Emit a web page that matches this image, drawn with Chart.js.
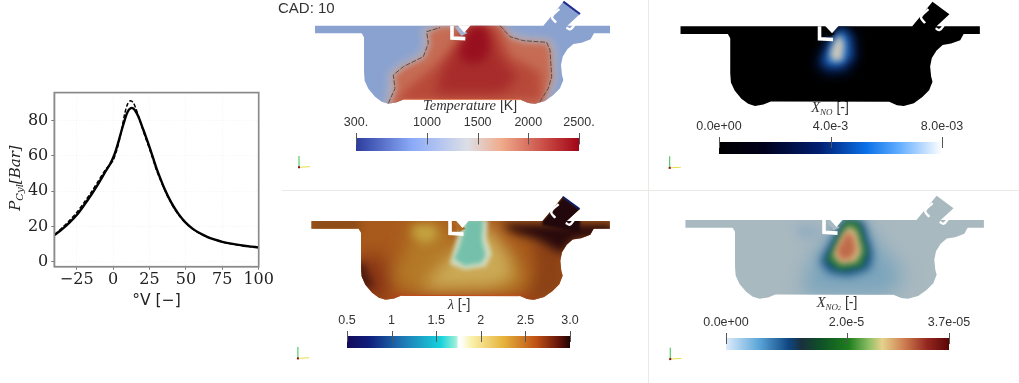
<!DOCTYPE html>
<html>
<head>
<meta charset="utf-8">
<title>CAD 10</title>
<script src="https://cdn.jsdelivr.net/npm/chart.js@4"></script>
<style>
  html, body { margin: 0; padding: 0; background: #fff; overflow: hidden; }
  #page { position: absolute; left: 0; top: 0; width: 1019px; height: 383px; filter: blur(0.4px); }
  #page canvas { position: absolute; }
  .txt { position: absolute; white-space: nowrap; color: #333; transform: translateX(-50%); font: 14px "Liberation Sans", sans-serif; }
  .txt i { font: italic 14.5px "Liberation Serif", serif; }
  .txt sub { font: italic 9px "Liberation Serif", serif; vertical-align: -3px; }
  .rule { position: absolute; background: #e9e9e6; }
</style>
</head>
<body>
<div id="page">
  <div class="rule" style="left:282px;top:190px;width:737px;height:1px"></div>
  <div class="rule" style="left:648px;top:0;width:1px;height:383px"></div>
  <div class="txt" style="left:278px;top:-1px;transform:none;font-size:15px">CAD: 10</div>
  <div class="txt" style="left:470px;top:97px"><i>Temperature</i> [K]</div>
  <div class="txt" style="left:830px;top:99px"><i>X</i><sub>NO</sub> [-]</div>
  <div class="txt" style="left:459px;top:296px"><i>λ</i> [-]</div>
  <div class="txt" style="left:837px;top:294px"><i>X</i><sub>NO<span style="font-size:6px">2</span></sub> [-]</div>
  <div class="txt" style="left:15px;top:178px;transform:translate(-50%,-50%) rotate(-90deg);color:#222;font:italic 15px 'DejaVu Serif',serif">P<sub style="font:italic 10px 'DejaVu Serif',serif">Cyl</sub>[Bar]</div>
</div>
<script>
// cylinder pressure trace
var crankAngle = [-40,-35,-30,-25,-20,-15,-10,-5,-2,0,2,4,6,8,10,12,14,16,18,20,22,25,28,30,35,40,45,50,55,60,65,70,75,80,85,90,95,100];
var pressureSim = [15.2,18.5,22.2,26.5,32,38,44.5,51.5,55.5,59,63.5,69,75,80.5,85,87,86.8,84.5,81,76.5,72,65,57.5,52.5,42,33.5,27,22,18.5,16,14,12.5,11.3,10.4,9.7,9.1,8.6,8.1];
var pressureExp = [15.5,19.3,23.4,28,33.5,39.5,46,52.5,55.3,57.5,62,68,75.5,84,89.5,91.3,90,86,81,76,71,64,56.5,51.5,41.5,33,26.5,21.8,18.3,15.8,13.9,12.4,11.2,10.3,9.6,9,8.5,8.1];
var angleTicks = [-25,0,25,50,75,100];
var pressureTicks = [0,20,40,60,80];

// engine section outline, shared by all four fields
var outline = [[105,77],[790,77],[850,5],[900,42],[862,77],[990,77],[990,100],[942,100],[932,118],[905,128],[880,132],[862,148],[848,170],[843,195],[846,225],[850,240],[840,265],[820,285],[795,303],[765,311],[745,309],[722,299],[372,298],[350,307],[325,311],[305,305],[285,290],[265,266],[254,242],[252,215],[252,112],[245,100],[105,100]];
var injector = [[516,77],[516,114],[556,116]];
var injectorGap = [[533,76],[553,98],[572,76],[533,76]];
var injectorWedge = [[524,80],[544,108],[562,100],[540,80],[524,80]];
var valveMarkA = [[838,27],[816,50],[828,68]];
var valveMarkB = [[885,72],[871,88],[859,83]];
var valveEdge = [[850,5],[900,42]];
var floorEdge = [[372,298],[722,299]];

// temperature field
var tempBase = [[0,0],[1020,0],[1020,555],[0,555],[0,0]];
var tempPale = [[312,330],[330,262],[328,220],[366,192],[424,164],[436,130],[428,88],[472,72],[664,70],[696,104],[738,114],[812,120],[824,150],[826,240],[814,270],[788,330],[312,330]];
var tempWarm = [[326,330],[348,268],[342,228],[372,203],[433,173],[450,130],[443,98],[480,80],[660,75],[690,113],[730,126],[802,130],[812,155],[816,235],[806,265],[778,330],[326,330]];
var tempHot = [[570,75],[650,75],[690,170],[780,215],[785,300],[345,305],[400,250],[470,195],[530,130],[570,75]];
var tempRed = [[570,85],[625,85],[660,170],[715,235],[660,280],[465,280],[490,205],[540,130],[570,85]];
var tempCore = [[572,78],[618,80],[630,140],[610,184],[565,190],[536,165],[553,120],[572,78]];
var tempIso = [[325,310],[345,265],[340,225],[370,200],[430,170],[445,130],[440,95],[480,83]];
var tempIso2 = [[660,77],[690,110],[730,122],[800,127],[810,150],[815,230],[805,265],[780,305]];

// NO field
var noHalo = [[590,72],[628,105],[632,172],[600,218],[535,224],[500,192],[525,130],[556,78],[590,72]];
var noBlue = [[582,82],[606,108],[612,165],[582,197],[540,197],[524,180],[548,122],[582,82]];
var noCore = [[578,102],[590,130],[584,178],[552,180],[546,155],[562,116],[578,102]];

// lambda field
var lamDarkLow = [[245,190],[290,170],[345,220],[340,290],[330,330],[240,300],[245,190]];
var lamWall = [[230,205],[262,200],[272,240],[290,275],[255,280],[230,205]];
var lamDarkRight = [[665,85],[1000,85],[1000,125],[880,135],[850,175],[780,135],[700,110],[665,85]];
var lamRightSide = [[760,130],[860,130],[860,300],[770,320],[735,300],[770,230],[760,130]];
var lamRect = [[790,77],[850,5],[905,42],[900,110],[790,90],[790,77]];
var lamLeftFlange = [[100,70],[250,70],[250,108],[100,108],[100,70]];
var lamFloor = [[340,292],[780,292],[780,330],[340,330],[340,292]];
var lamMid = [[390,90],[500,80],[540,170],[700,160],[745,250],[715,285],[385,285],[340,240],[390,160],[390,90]];
var lamYellow = [[535,165],[630,85],[685,170],[705,245],[640,272],[430,278],[475,225],[535,165]];
var lamSpot = [[405,90],[470,88],[480,125],[440,145],[405,120],[405,90]];
var lamPale = [[553,72],[628,72],[625,130],[640,175],[622,212],[560,222],[515,205],[530,150],[553,72]];
var lamTeal = [[565,72],[615,72],[610,130],[622,180],[608,202],[560,210],[528,190],[545,150],[565,72]];

// NO2 field
var no2Halo = [[445,300],[710,300],[755,240],[700,175],[630,85],[560,85],[480,190],[445,300]];
var no2Spot = [[430,95],[490,92],[500,120],[460,135],[430,115],[430,95]];
var no2Dark = [[575,76],[632,80],[660,180],[650,222],[590,242],[530,232],[505,200],[545,130],[575,76]];
var no2Green = [[580,76],[620,84],[645,170],[630,216],[560,226],[522,195],[555,130],[580,76]];
var no2Tan = [[588,95],[612,108],[628,170],[612,202],[565,208],[542,182],[568,125],[588,95]];
var no2Red = [[585,112],[602,125],[612,165],[596,192],[565,196],[553,168],[574,130],[585,112]];

// colour bar ranges, ticks, labels
var tempTicks = [300,1000,1500,2000,2500];
var tempLabels = ['300.','1000','1500','2000','2500.'];
var noTicks = [0,0.004,0.008];
var noLabels = ['0.0e+00','4.0e-3','8.0e-03'];
var lamTicks = [0.5,1,1.5,2,2.5,3];
var lamLabels = ['0.5','1','1.5','2','2.5','3.0'];
var no2Ticks = [0,0.00002,0.000037];
var no2Labels = ['0.0e+00','2.0e-5','3.7e-05'];
var tempStops = [[0,'#2c3c9e'],[0.25,'#8aaaf8'],[0.5,'#dcdfe6'],[0.65,'#f0ac8c'],[0.88,'#c23c3a'],[1,'#a00518']];
var noStops = [[0,'#000000'],[0.2,'#00001c'],[0.45,'#001e70'],[0.66,'#0a70e8'],[0.8,'#5caaff'],[1,'#ffffff']];
var lamStops = [[0,'#140a5a'],[0.1,'#101e7c'],[0.25,'#1e78b4'],[0.42,'#16d2dc'],[0.49,'#a0f0d8'],[0.5,'#ffffff'],[0.51,'#ffffff'],[0.56,'#faf0aa'],[0.7,'#e6b43c'],[0.85,'#be5014'],[0.95,'#64140a'],[1,'#1e0505']];
var no2Stops = [[0,'#dcebfa'],[0.15,'#5aa5d7'],[0.28,'#0f4682'],[0.34,'#19303c'],[0.42,'#0f5028'],[0.55,'#1e7d1e'],[0.64,'#8cbe64'],[0.7,'#e6d28c'],[0.8,'#cd7d50'],[0.9,'#962820'],[1,'#5a0505']];

var page = document.getElementById('page');
Chart.defaults.animation = false;
Chart.defaults.responsive = false;

function addCanvas(left, top, w, h) {
  var c = document.createElement('canvas');
  c.width = w; c.height = h;
  c.style.left = left + 'px';
  c.style.top = top + 'px';
  c.style.width = w + 'px';
  c.style.height = h + 'px';
  page.appendChild(c);
  return c;
}
function pts(list) {
  return list.map(function(p){ return {x: p[0], y: p[1]}; });
}

// --- pressure plot
new Chart(addCanvas(0, 80, 280, 230), {
  type: 'line',
  data: {
    labels: crankAngle,
    datasets: [{
      data: crankAngle.map(function(a, i){ return {x: a, y: pressureSim[i]}; }),
      borderColor: '#000', borderWidth: 2.4, pointRadius: 0, tension: 0.3, order: 1
    },{
      data: crankAngle.map(function(a, i){ return {x: a, y: pressureExp[i]}; }),
      borderColor: '#000', borderWidth: 1.5, borderDash: [4,2], pointRadius: 0, tension: 0.3, order: 2
    }]
  },
  options: {
    layout: {padding: {top: 10, right: 21.3, left: 0, bottom: 0}},
    plugins: {legend: {display: false}, tooltip: {enabled: false}},
    scales: {
      x: {
        type: 'linear', min: -40.4, max: 100,
        afterBuildTicks: function(s){ s.ticks = angleTicks.map(function(v){ return {value: v}; }); },
        afterFit: function(s){ s.height = 43.3; },
        ticks: {color: '#222', padding: 1, maxRotation: 0, font: {family: 'DejaVu Serif', size: 16},
                callback: function(v){ return String(v).replace('-', '\u2212'); }},
        grid: {color: 'rgba(0,0,0,0.05)', tickLength: 3, tickColor: '#777'},
        border: {color: '#888', width: 1.2, dash: [1,2]},
        title: {display: true, text: '°V [\u2212]', color: '#222', padding: 0, font: {family: 'DejaVu Sans', size: 15.5}}
      },
      y: {
        min: -2.8, max: 95.9,
        afterBuildTicks: function(s){ s.ticks = pressureTicks.map(function(v){ return {value: v}; }); },
        afterFit: function(s){ s.width = 54.3; },
        ticks: {color: '#222', padding: 3, font: {family: 'DejaVu Serif', size: 16}},
        grid: {color: 'rgba(0,0,0,0.05)', tickLength: 3, tickColor: '#777'},
        border: {color: '#888', width: 1.2, dash: [1,2]}
      }
    }
  },
  plugins: [{
    id: 'frame',
    afterDraw: function(chart){
      var a = chart.chartArea, c = chart.ctx;
      c.save(); c.strokeStyle = '#8a8a8a'; c.lineWidth = 1.7;
      c.strokeRect(a.left, a.top, a.width, a.height);
      c.restore();
    }
  }]
});

// --- field panels
// the filler paints inside beforeDatasetDraw before this plugin gets called,
// so the blur for the next layer is set when the previous one is finished
var clipField = {
  id: 'clipField',
  beforeDatasetsDraw: function(chart){
    var c = chart.ctx, sx = chart.scales.x, sy = chart.scales.y;
    c.save();
    c.beginPath();
    outline.forEach(function(p, i){
      var px = sx.getPixelForValue(p[0]), py = sy.getPixelForValue(p[1]);
      if (i) c.lineTo(px, py); else c.moveTo(px, py);
    });
    c.closePath();
    c.clip();
  },
  afterDatasetDraw: function(chart, args){
    var d = args.meta._dataset;
    if (d.lastField) chart.ctx.restore();
    else if (d.nextBlur != null) chart.ctx.filter = 'blur(' + d.nextBlur + 'px)';
  }
};

function fieldPanel(box, layers, overlays, triad) {
  var sets = [];
  layers.forEach(function(l, i){
    var next = layers[i + 1];
    sets.push({data: pts(l[0]), backgroundColor: l[1], fill: 'shape', borderWidth: 0, pointRadius: 0,
               lastField: !next, nextBlur: next ? next[2] : null});
  });
  overlays = overlays.concat([
    {pts: [[triad[0],triad[1]],[triad[0],triad[1]-34]], color: '#33c24a', w: 1},
    {pts: [[triad[0],triad[1]],[triad[0]+33,triad[1]-2]], color: '#e6e04a', w: 1},
    {pts: [[triad[0]-3,triad[1]],[triad[0]+3,triad[1]]], color: '#8a1020', w: 2}
  ]);
  overlays.forEach(function(o){
    sets.push({data: pts(o.pts), borderColor: o.color, borderWidth: o.w, borderDash: o.dash || [], pointRadius: 0,
               fill: o.fillColor ? 'shape' : false, tension: o.tension || 0, backgroundColor: o.fillColor || 'transparent'});
  });
  sets.forEach(function(d, i){ d.order = sets.length - i; });
  new Chart(addCanvas(box[0], box[1], box[2], box[3]), {
    type: 'line',
    data: {datasets: sets},
    options: {
      layout: {padding: 0},
      plugins: {legend: {display: false}, tooltip: {enabled: false}},
      scales: {
        x: {type: 'linear', display: false, min: 0, max: 1020},
        y: {type: 'linear', display: false, reverse: true, min: 0, max: 555}
      }
    },
    plugins: [clipField]
  });
}

function injectorMarks(wedgeColor, edgeColor, floorColor) {
  var list = [
    {pts: injectorWedge, color: wedgeColor, w: 0, fillColor: wedgeColor},
    {pts: injector, color: '#fff', w: 3.6},
    {pts: injectorGap, color: '#fff', w: 0, fillColor: '#fff'},
    {pts: valveMarkA, color: '#fff', w: 2.4, tension: 0.4},
    {pts: valveMarkB, color: '#fff', w: 2.4, tension: 0.4}
  ];
  if (edgeColor) list.push({pts: valveEdge, color: edgeColor, w: 2});
  if (floorColor) list.push({pts: floorEdge, color: floorColor, w: 1});
  return list;
}

fieldPanel([280, 0, 340, 185], [
  [tempBase, '#8aa2d0', 0], [tempPale, '#c0b4b4', 5], [tempWarm, '#c66c54', 3],
  [tempHot, '#b84a3a', 5], [tempRed, '#a72c2b', 6], [tempCore, '#98101f', 4]
], injectorMarks('#a4b4d0', '#1c2c90', '#e8805a').concat([
  {pts: tempIso, color: '#554f4a', w: 1, dash: [5,1.5]},
  {pts: tempIso2, color: '#554f4a', w: 1, dash: [5,1.5]}
]), [57, 502]);

fieldPanel([645, 0, 345, 189], [
  [tempBase, '#000000', 0], [noHalo, '#04143c', 5], [noBlue, '#1e68c0', 4], [noCore, '#c8c8bc', 3]
], injectorMarks('#000000'), [73, 493]);

fieldPanel([276, 195, 344, 187], [
  [tempBase, '#a85a1c', 0], [lamDarkLow, '#8a3616', 9], [lamFloor, '#a8401a', 4], [lamRightSide, '#8c4216', 7], [lamMid, '#b47a28', 9], [lamWall, '#3c100c', 5],
  [lamDarkRight, '#2a0a0c', 5], [lamRect, '#22080c', 1], [lamLeftFlange, '#8a4a18', 4],
  [lamYellow, '#cbaa56', 8], [lamSpot, '#c4a440', 5], [lamPale, '#d2dcc0', 2], [lamTeal, '#74c0aa', 2]
], injectorMarks('#b06a24', '#101c60', '#c04a1c'), [65, 485]);

fieldPanel([650, 194, 344, 187], [
  [tempBase, '#a9b9c0', 0], [no2Spot, '#93aec2', 5], [no2Halo, '#7aa4bc', 10], [no2Dark, '#0f4a7e', 5],
  [no2Green, '#2c7a3c', 3], [no2Tan, '#d8bc84', 3], [no2Red, '#bf6a4a', 3]
], injectorMarks('#a9b9c0'), [60, 490]);

// --- colour bars
function colorBar(left, right, top, height, lo, hi, tickVals, tickText, stops) {
  new Chart(addCanvas(left - 40, top - 40, right - left + 80, height + 40), {
    type: 'bar',
    data: {
      labels: ['range'],
      datasets: [{
        data: [[lo, hi]],
        barPercentage: 1, categoryPercentage: 1, borderWidth: 0,
        backgroundColor: function(ctx){
          var a = ctx.chart.chartArea;
          if (!a) return '#888';
          var g = ctx.chart.ctx.createLinearGradient(a.left, 0, a.right, 0);
          stops.forEach(function(s){ g.addColorStop(s[0], s[1]); });
          return g;
        }
      }]
    },
    options: {
      indexAxis: 'y',
      layout: {padding: {left: 40, right: 40, top: 14, bottom: 0}},
      plugins: {legend: {display: false}, tooltip: {enabled: false}},
      scales: {
        x: {
          type: 'linear', position: 'top', min: lo, max: hi,
          afterBuildTicks: function(s){ s.ticks = tickVals.map(function(v){ return {value: v}; }); },
          afterFit: function(s){ s.height = 26; },
          ticks: {color: '#333', padding: 0, maxRotation: 0, autoSkip: false, font: {family: 'Liberation Sans', size: 12.5},
                  callback: function(v, i){ return tickText[i]; }},
          grid: {display: false},
          border: {display: false}
        },
        y: {display: false}
      }
    },
    plugins: [{
      id: 'barTicks',
      afterDatasetsDraw: function(chart){
        var a = chart.chartArea, c = chart.ctx, sx = chart.scales.x;
        c.save(); c.strokeStyle = '#555'; c.lineWidth = 1;
        tickVals.forEach(function(v){
          var px = Math.round(sx.getPixelForValue(v)) + 0.5;
          c.beginPath(); c.moveTo(px, a.top - 5); c.lineTo(px, a.top + a.height / 2); c.stroke();
        });
        c.restore();
      }
    }]
  });
}
colorBar(356, 579, 138, 13, 300, 2500, tempTicks, tempLabels, tempStops);
colorBar(719, 942, 142, 12, 0, 0.008, noTicks, noLabels, noStops);
colorBar(347, 570, 336, 12, 0.5, 3, lamTicks, lamLabels, lamStops);
colorBar(726, 949, 338, 12, 0, 0.000037, no2Ticks, no2Labels, no2Stops);
</script>
</body>
</html>
